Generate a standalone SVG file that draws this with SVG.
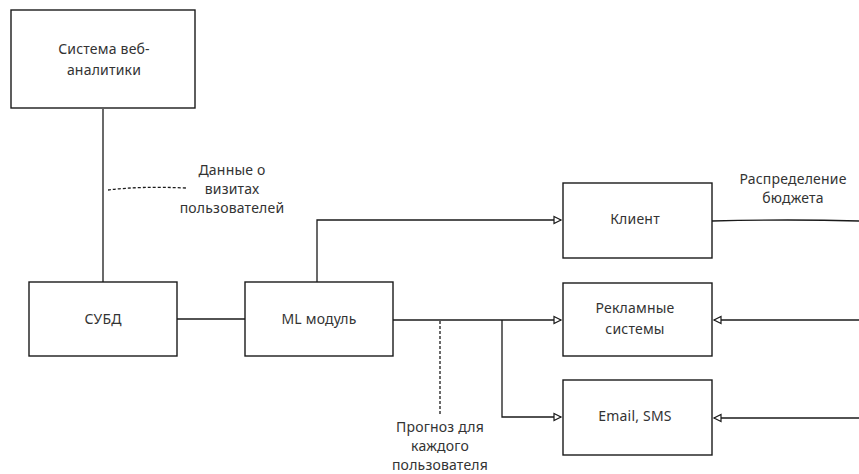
<svg xmlns="http://www.w3.org/2000/svg" width="859" height="474" viewBox="0 0 859 474">
<defs>
<style>
.box{fill:#fff;stroke:#1a1a1a;stroke-width:1.4}
.edge{fill:none;stroke:#1a1a1a;stroke-width:1.3}
.dash{fill:none;stroke:#1a1a1a;stroke-width:1.3;stroke-dasharray:3 2}
text{font-family:"Noto Sans","Liberation Sans",sans-serif;font-size:14px;letter-spacing:0.2px;fill:#333;text-anchor:middle;dominant-baseline:middle}
</style>
<marker id="arr" markerWidth="10" markerHeight="10" refX="8" refY="5" orient="auto" markerUnits="userSpaceOnUse">
<path d="M1,1.5 L8,5 L1,8.5 Z" fill="#fff" stroke="#1a1a1a" stroke-width="1.2"/>
</marker>
</defs>
<rect width="859" height="474" fill="#fff"/>
<g id="connectors">
<path class="edge" d="M103,109 L103,282"/>
<path class="dash" d="M108,190 Q140,186 186,188"/>
<path class="edge" d="M177,319 L245,319"/>
<path class="edge" d="M317,282 L317,220 L561,220" marker-end="url(#arr)"/>
<path class="edge" d="M393,320 L561,320" marker-end="url(#arr)"/>
<path class="edge" d="M502,320 L502,417 L561,417" marker-end="url(#arr)"/>
<path class="dash" d="M440,321 L440,416"/>
<path class="edge" d="M712,221 Q790,219 859,221" stroke-width="2"/>
<path class="edge" d="M859,320 L714,320" marker-end="url(#arr)"/>
<path class="edge" d="M859,418 L714,418" marker-end="url(#arr)"/>
</g>
<g id="web-analytics">
<rect class="box" x="11" y="10" width="184" height="98"/>
<text x="104" y="50">Система веб-</text>
<text x="104" y="71">аналитики</text>
</g>
<g id="label-visits">
<text x="232" y="171">Данные о</text>
<text x="232" y="190">визитах</text>
<text x="232" y="209">пользователей</text>
</g>
<g id="dbms">
<rect class="box" x="29" y="282" width="148" height="74"/>
<text x="103" y="320">СУБД</text>
</g>
<g id="ml">
<rect class="box" x="245" y="282" width="148" height="74"/>
<text x="319" y="320">ML модуль</text>
</g>
<g id="client">
<rect class="box" x="563" y="183" width="149" height="75"/>
<text x="635" y="220">Клиент</text>
</g>
<g id="label-budget">
<text x="793" y="180">Распределение</text>
<text x="793" y="199">бюджета</text>
</g>
<g id="ads">
<rect class="box" x="563" y="283" width="149" height="73"/>
<text x="635" y="309">Рекламные</text>
<text x="635" y="330">системы</text>
</g>
<g id="email">
<rect class="box" x="563" y="380" width="149" height="75"/>
<text x="635" y="417">Email, SMS</text>
</g>
<g id="label-forecast">
<text x="440" y="428">Прогноз для</text>
<text x="440" y="447">каждого</text>
<text x="440" y="466">пользователя</text>
</g>
</svg>
